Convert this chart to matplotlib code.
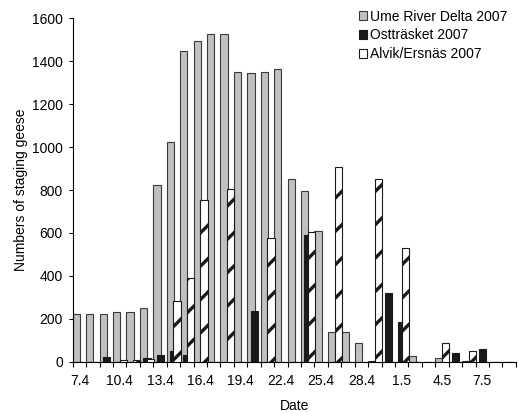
import numpy as np
import matplotlib
matplotlib.use('agg')
import matplotlib.pyplot as plt

plt.rcParams['font.family'] = ['Liberation Sans', 'DejaVu Sans']
plt.rcParams['hatch.linewidth'] = 2.4

dates = ['7.4', '8.4', '9.4', '10.4', '11.4', '12.4', '13.4', '14.4', '15.4', '16.4', '17.4',
         '18.4', '19.4', '20.4', '21.4', '22.4', '23.4', '24.4', '25.4', '26.4', '27.4', '28.4',
         '29.4', '30.4', '1.5', '2.5', '3.5', '4.5', '5.5', '6.5', '7.5', '8.5', '9.5']
tick_labels = ['7.4', '10.4', '13.4', '16.4', '19.4', '22.4', '25.4', '28.4', '1.5', '4.5', '7.5']

ume = [222, 222, 222, 231, 231, 252, 825, 1023, 1448, 1492, 1527, 1527, 1352, 1345, 1352, 1363,
       852, 797, 607, 140, 140, 89, 4, 0, 0, 25, 0, 15, 0, 3, 0, 0, 0]
ost = [0, 0, 22, 0, 0, 17, 32, 51, 33, 0, 0, 0, 0, 236, 0, 0,
       0, 592, 0, 0, 0, 0, 3, 322, 185, 0, 0, 0, 42, 3, 57, 0, 0]
alvik = [0, 0, 0, 9, 9, 14, 0, 284, 389, 752, 0, 803, 0, 0, 578, 0,
         0, 603, 0, 908, 0, 0, 850, 0, 531, 0, 0, 86, 0, 50, 0, 0, 0]

fig = plt.figure(figsize=(5.18, 4.13), dpi=100)
ax = fig.add_axes([0.1403, 0.1242, 0.8555, 0.8315])

x = np.arange(len(dates))
w = 0.55
ax.bar(x, ume, w, align='edge', color='#c0c0c0', edgecolor='#3a3a3a', linewidth=0.8,
       label='Ume River Delta 2007', zorder=2)
ax.bar(x + 0.25, ost, w, align='edge', color='#1a1a1a', edgecolor='#1a1a1a', linewidth=0.8,
       label='Ostträsket 2007', zorder=3)
ax.bar(x + 0.5, alvik, w, align='edge', color='white', edgecolor='#1a1a1a', linewidth=0.8,
       hatch='/', label='Alvik/Ersnäs 2007', zorder=4)

ax.set_xlim(0, len(dates))
ax.set_ylim(0, 1600)
ax.set_yticks(range(0, 1601, 200))
ax.set_xticks(np.arange(len(dates) + 1))
ax.set_xticklabels([])
ax.set_xticks(np.arange(0, len(dates), 3) + 0.5, minor=True)
ax.set_xticklabels(tick_labels, minor=True)
ax.tick_params(axis='x', which='major', direction='out', length=3.5, width=0.8)
ax.tick_params(axis='x', which='minor', length=0, pad=9, labelsize=10)
ax.tick_params(axis='y', direction='out', length=3, width=0.8, pad=4, labelsize=10)

for s in ['top', 'right']:
    ax.spines[s].set_visible(False)
ax.spines['left'].set_linewidth(0.8)
ax.spines['bottom'].set_linewidth(0.8)

ax.set_xlabel('Date', fontsize=10, labelpad=8)
ax.set_ylabel('Numbers of staging geese', fontsize=10, labelpad=3)

fig.legend(loc='upper left', bbox_to_anchor=(353 / 518, 1 - 4 / 413), frameon=False,
           fontsize=10, handlelength=0.6, handleheight=0.6, handletextpad=0.25,
           labelspacing=0.35, borderaxespad=0)

plt.savefig('out.png', dpi=100)
